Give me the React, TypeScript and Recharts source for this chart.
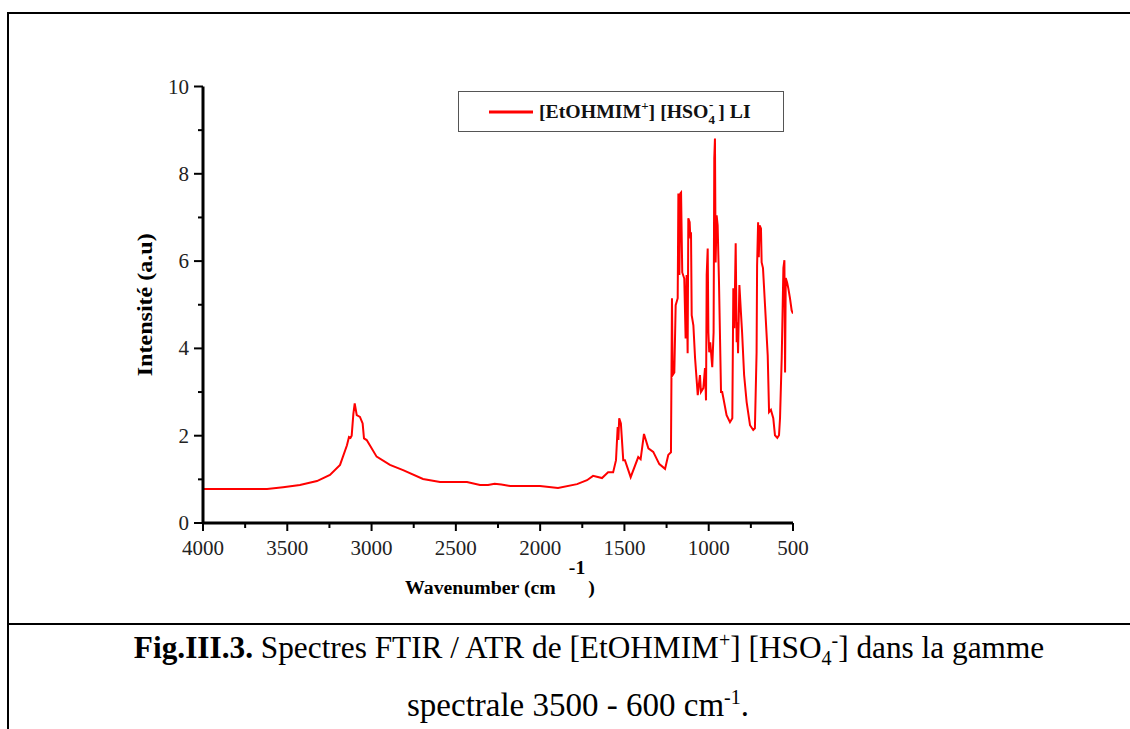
import React from 'react';
import { LineChart, Line, XAxis, YAxis, Legend, Label } from 'recharts';

const wavenumbers = [
  4000, 3800, 3620, 3525, 3425, 3324, 3247, 3187, 3146, 3134, 3125, 3118, 3108, 3100, 3088, 3069, 3053, 3045, 3029,
  2970, 2891, 2813, 2695, 2594, 2434, 2357, 2309, 2270, 2230, 2179, 2001, 1894, 1781, 1722, 1686, 1633, 1597, 1567,
  1550, 1540, 1536, 1531, 1521, 1507, 1497, 1463, 1418, 1404, 1384, 1358, 1329, 1293, 1259, 1240, 1224, 1218, 1214,
  1204, 1196, 1184, 1180, 1174, 1168, 1164, 1157, 1145, 1137, 1131, 1125, 1121, 1113, 1109, 1105, 1101, 1091, 1081,
  1065, 1052, 1046, 1032, 1022, 1016, 1012, 1006, 1002, 997, 991, 979, 971, 967, 963, 959, 953, 947, 939, 927, 920,
  914, 894, 874, 860, 854, 848, 840, 834, 830, 826, 818, 809, 802, 790, 775, 755, 736, 726, 716, 713, 707, 703, 698,
  690, 686, 678, 666, 650, 642, 631, 617, 607, 593, 583, 577, 567, 557, 551, 547, 543, 535, 528, 518, 508, 500,
];

const intensities = [
  0.78, 0.78, 0.78, 0.82, 0.87, 0.96, 1.1, 1.33, 1.78, 1.97, 1.95, 2.0, 2.5, 2.74, 2.47, 2.43, 2.28, 1.94, 1.9,
  1.52, 1.33, 1.21, 1.01, 0.94, 0.94, 0.87, 0.87, 0.9, 0.88, 0.85, 0.85, 0.8, 0.89, 0.98, 1.08, 1.03, 1.16, 1.16,
  1.44, 2.2, 1.9, 2.4, 2.28, 1.44, 1.44, 1.05, 1.51, 1.46, 2.04, 1.71, 1.63, 1.35, 1.24, 1.56, 1.62, 5.15, 3.39,
  3.45, 4.99, 5.15, 7.55, 5.68, 7.55, 7.57, 5.74, 5.6, 4.23, 5.68, 3.89, 6.98, 6.89, 6.52, 6.66, 4.76, 4.53, 3.78,
  2.93, 3.39, 3.0, 3.09, 3.55, 2.81, 5.68, 6.29, 4.37, 3.91, 4.14, 3.57, 4.37, 8.35, 8.81, 5.97, 7.05, 6.82, 5.51, 3.0, 3.0,
  2.88, 2.47, 2.31, 2.4, 5.38, 4.46, 6.41, 4.14, 4.6, 3.89, 5.45, 4.83, 4.37, 3.39, 2.77, 2.24, 2.13, 2.17, 3.91, 5.9, 6.89, 6.09, 6.82,
  6.75, 5.97, 5.84, 4.99, 3.84, 2.54, 2.59, 2.4, 2.01, 1.95, 2.01, 2.4, 3.78, 5.84, 6.02, 3.45, 5.61, 5.51, 5.38, 5.15, 4.87, 4.8,
];

const xTicks = [4000, 3750, 3500, 3250, 3000, 2750, 2500, 2250, 2000, 1750, 1500, 1250, 1000, 750, 500];
const xMajor = [4000, 3500, 3000, 2500, 2000, 1500, 1000, 500];
const yTicks = [0, 1, 2, 3, 4, 5, 6, 7, 8, 9, 10];
const yMajor = [0, 2, 4, 6, 8, 10];

const data = wavenumbers.map((wn, i) => ({ wn, val: intensities[i] }));

const SERIF = '"Liberation Serif", "Times New Roman", serif';

const XTick = (props: any) => {
  const { x, y, payload } = props;
  const major = xMajor.includes(payload.value);
  return (
    <g>
      <line x1={x} x2={x} y1={y} y2={y + (major ? 8 : 5)} stroke="#000" strokeWidth={2} />
      {major && (
        <text x={x} y={y + 32} textAnchor="middle" fontSize={21} fontFamily={SERIF} fill="#222">
          {payload.value}
        </text>
      )}
    </g>
  );
};

const YTick = (props: any) => {
  const { x, y, payload } = props;
  const major = yMajor.includes(payload.value);
  return (
    <g>
      <line x1={x} x2={x - (major ? 9 : 5)} y1={y} y2={y} stroke="#000" strokeWidth={2} />
      {major && (
        <text x={x - 14} y={y + 7} textAnchor="end" fontSize={21} fontFamily={SERIF} fill="#222">
          {payload.value}
        </text>
      )}
    </g>
  );
};

const XTitle = (props: any) => {
  const vb = props.viewBox;
  const cx = vb.x + vb.width / 2;
  return (
    <text x={cx + 2} y={vb.y + 71} textAnchor="middle" fontSize={19.8} fontWeight="bold" fontFamily={SERIF} fill="#000">
      Wavenumber (cm
      <tspan dx={13} dy={-20}>-1</tspan>
      <tspan dx={3} dy={20}>)</tspan>
    </text>
  );
};

const YTitle = (props: any) => {
  const vb = props.viewBox;
  const cy = vb.y + vb.height / 2;
  const cx = vb.x + vb.width - 58;
  return (
    <text
      x={cx}
      y={cy}
      transform={`rotate(-90 ${cx} ${cy})`}
      textAnchor="middle"
      dominantBaseline="central"
      fontSize={20}
      fontWeight="bold"
      fontFamily={SERIF}
      fill="#000"
      textLength={143}
      lengthAdjust="spacingAndGlyphs"
    >
      Intensité (a.u)
    </text>
  );
};

const LegendBox = () => (
  <div
    style={{
      boxSizing: 'border-box',
      width: 326,
      height: 41,
      border: '1px solid #555',
      background: '#fff',
      display: 'flex',
      alignItems: 'center',
      fontFamily: SERIF,
      fontWeight: 'bold',
      fontSize: 19.8,
      color: '#111',
      lineHeight: 1,
    }}
  >
    <svg width={44} height={4} style={{ marginLeft: 30, marginRight: 6 }}>
      <line x1={0} y1={2} x2={44} y2={2} stroke="#ff0000" strokeWidth={3} />
    </svg>
    <span style={{ whiteSpace: 'nowrap' }}>
      [EtOHMIM<span style={{ fontSize: 13, position: 'relative', top: -8 }}>+</span>] [HSO
      <span style={{ fontSize: 13, position: 'relative', top: 6 }}>4</span>
      <span style={{ fontSize: 13, position: 'relative', top: -9, marginLeft: -6 }}>-</span> ] LI
    </span>
  </div>
);

export default function App() {
  return (
    <div style={{ position: 'fixed', left: 0, top: 0, width: 1130, height: 729, background: '#fff', overflow: 'hidden' }}>
      {/* frame */}
      <div style={{ position: 'absolute', left: 7, top: 12, width: 1123, height: 2, background: '#000' }} />
      <div style={{ position: 'absolute', left: 7, top: 12, width: 2, height: 717, background: '#000' }} />
      <div style={{ position: 'absolute', left: 7, top: 623, width: 1123, height: 2, background: '#000' }} />

      <div style={{ position: 'absolute', left: 0, top: 0 }}>
        <LineChart
          width={1130}
          height={729}
          data={data}
          margin={{ top: 86.5, right: 337, left: 143, bottom: 176 }}
        >
          <XAxis
            dataKey="wn"
            type="number"
            domain={[500, 4000]}
            reversed
            ticks={xTicks}
            interval={0}
            tickSize={0}
            tickMargin={0}
            tickLine={false}
            axisLine={{ stroke: '#000', strokeWidth: 3 }}
            tick={<XTick />}
            height={30}
            allowDataOverflow
          >
            <Label content={<XTitle />} />
          </XAxis>
          <XAxis
            xAxisId="top"
            orientation="top"
            dataKey="wn"
            type="number"
            domain={[500, 4000]}
            reversed
            tick={false}
            tickLine={false}
            axisLine={{ stroke: '#000', strokeWidth: 3 }}
            height={0}
            allowDataOverflow
          />
          <YAxis
            type="number"
            domain={[0, 10]}
            ticks={yTicks}
            interval={0}
            tickSize={0}
            tickMargin={0}
            tickLine={false}
            axisLine={{ stroke: '#000', strokeWidth: 3 }}
            tick={<YTick />}
            width={60}
            allowDataOverflow
          >
            <Label content={<YTitle />} />
          </YAxis>
          <YAxis
            yAxisId="right"
            orientation="right"
            type="number"
            domain={[0, 10]}
            tick={false}
            tickLine={false}
            axisLine={{ stroke: '#000', strokeWidth: 3 }}
            width={0}
            allowDataOverflow
          />
          <Legend
            layout="vertical"
            align="center"
            verticalAlign="middle"
            content={<LegendBox />}
            wrapperStyle={{ left: 458, top: 91, width: 326, height: 41 }}
          />
          <Line
            type="linear"
            dataKey="val"
            stroke="#ff0000"
            strokeWidth={2}
            dot={false}
            activeDot={false}
            isAnimationActive={false}
          />
        </LineChart>
      </div>

      {/* caption */}
      <div
        style={{
          position: 'absolute',
          left: 24,
          top: 628,
          width: 1130,
          textAlign: 'center',
          fontFamily: SERIF,
          fontSize: 31.3,
          lineHeight: '40px',
          color: '#000',
          whiteSpace: 'nowrap',
        }}
      >
        <b>Fig.III.3.</b> Spectres FTIR / ATR de [EtOHMIM<sup style={{ fontSize: 20, lineHeight: 0 }}>+</sup>] [HSO
        <sub style={{ fontSize: 20, lineHeight: 0 }}>4</sub>
        <sup style={{ fontSize: 20, lineHeight: 0 }}>-</sup>] dans la gamme
      </div>
      <div
        style={{
          position: 'absolute',
          left: 13,
          top: 685,
          width: 1130,
          textAlign: 'center',
          fontFamily: SERIF,
          fontSize: 33,
          lineHeight: '40px',
          color: '#000',
          whiteSpace: 'nowrap',
        }}
      >
        spectrale 3500 - 600 cm<sup style={{ fontSize: 20, lineHeight: 0 }}>-1</sup>.
      </div>
    </div>
  );
}
